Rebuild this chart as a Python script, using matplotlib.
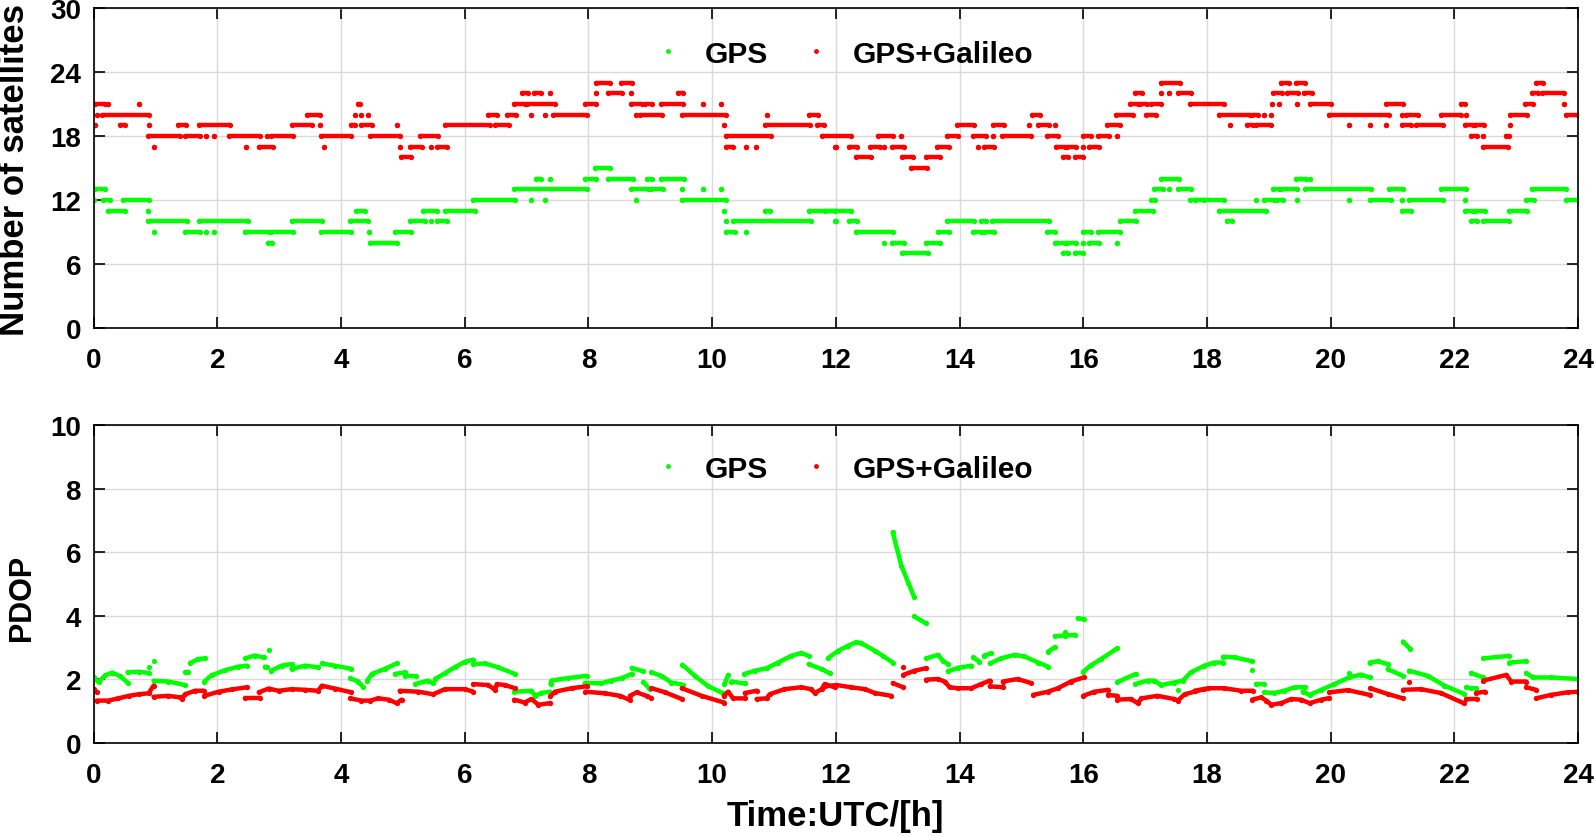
import matplotlib
matplotlib.use("Agg")
import matplotlib.pyplot as plt
from matplotlib.lines import Line2D

plt.rcParams["font.family"] = ["Liberation Sans", "DejaVu Sans"]
plt.rcParams["font.weight"] = "bold"

GREEN = "#00ff00"
RED = "#ff0000"

# Number of visible satellites: (start hour, end hour, count)
GPS_NSAT = [
    (0.03, 0.18, 13),
    (0.0, 0.0, 12), (0.16, 0.27, 12), (0.48, 0.89, 12),
    (0.24, 0.51, 11), (0.88, 0.88, 11), (4.25, 4.39, 11), (5.33, 5.56, 11), (5.68, 6.16, 11),
    (0.88, 1.51, 10), (1.70, 2.49, 10), (3.2, 3.7, 10), (4.15, 4.44, 10), (5.12, 5.36, 10),
    (5.45, 5.45, 10), (5.55, 5.71, 10),
    (0.97, 0.97, 9), (1.48, 1.72, 9), (1.81, 1.81, 9), (1.95, 1.95, 9), (2.45, 2.83, 9),
    (2.87, 3.23, 9), (3.67, 4.17, 9), (4.45, 4.45, 9), (4.87, 5.14, 9),
    (2.82, 2.89, 8), (4.47, 4.9, 8),
    (8.11, 8.35, 15),
    (7.16, 7.23, 14), (7.38, 7.38, 14), (7.94, 8.13, 14), (8.32, 8.72, 14), (8.94, 9.03, 14),
    (9.18, 9.54, 14),
    (6.80, 7.97, 13), (8.69, 8.97, 13), (9.01, 9.21, 13), (9.52, 9.52, 13), (9.86, 9.86, 13),
    (10.14, 10.14, 13),
    (6.14, 6.82, 12), (7.08, 7.08, 12), (7.30, 7.30, 12), (8.77, 8.77, 12), (9.52, 10.22, 12),
    (10.2, 10.2, 11), (10.86, 10.93, 11), (11.56, 11.98, 11),
    (10.23, 10.23, 10), (10.34, 11.6, 10), (11.98, 11.98, 10),
    (10.23, 10.37, 9), (10.54, 10.54, 9),
    (17.26, 17.55, 14),
    (17.15, 17.29, 13), (17.39, 17.39, 13), (17.53, 17.74, 13),
    (17.1, 17.16, 12), (17.72, 17.96, 12),
    (11.82, 12.24, 11), (16.83, 17.12, 11),
    (12.01, 12.01, 10), (12.21, 12.35, 10), (13.8, 14.24, 10), (14.34, 14.42, 10),
    (14.52, 15.45, 10), (16.59, 16.86, 10),
    (12.32, 12.93, 9), (13.65, 13.83, 9), (14.22, 14.35, 9), (14.4, 14.56, 9), (15.42, 15.55, 9),
    (16.0, 16.12, 9), (16.24, 16.6, 9),
    (12.78, 12.78, 8), (12.91, 13.1, 8), (13.45, 13.68, 8), (15.54, 15.7, 8), (15.74, 15.89, 8),
    (16.0, 16.0, 8), (16.09, 16.26, 8), (16.54, 16.54, 8),
    (13.07, 13.49, 7), (15.67, 15.75, 7), (15.86, 16.0, 7),
    (19.44, 19.6, 14), (19.66, 19.66, 14),
    (19.07, 19.17, 13), (19.2, 19.46, 13), (19.58, 20.65, 13), (20.95, 21.17, 13),
    (21.78, 22.19, 13), (23.25, 23.8, 13),
    (17.8, 18.28, 12), (18.79, 18.79, 12), (18.92, 19.09, 12), (19.14, 19.23, 12),
    (19.45, 19.45, 12), (20.29, 20.29, 12), (20.63, 20.97, 12), (21.15, 21.15, 12),
    (21.27, 21.81, 12), (22.17, 22.17, 12), (23.16, 23.28, 12), (23.8, 24.0, 12),
    (18.2, 18.95, 11), (21.15, 21.3, 11), (22.17, 22.3, 11), (22.33, 22.5, 11), (22.88, 23.17, 11),
    (18.33, 18.41, 10), (22.27, 22.37, 10), (22.47, 22.89, 10),
]

GAL_NSAT = [
    (0.03, 0.19, 21), (0.24, 0.24, 21), (0.73, 0.73, 21), (4.27, 4.31, 21),
    (0.05, 0.05, 20), (0.13, 0.89, 20), (3.45, 3.66, 20), (4.23, 4.23, 20), (4.33, 4.33, 20),
    (4.43, 4.43, 20),
    (0.02, 0.02, 19), (0.43, 0.51, 19), (0.89, 0.89, 19), (1.37, 1.49, 19), (1.70, 2.21, 19),
    (3.2, 3.53, 19), (3.66, 3.66, 19), (4.17, 4.23, 19), (4.33, 4.5, 19), (4.9, 4.9, 19),
    (5.68, 6.41, 19), (6.49, 6.72, 19),
    (0.88, 1.4, 18), (1.48, 1.72, 18), (1.81, 1.81, 18), (1.95, 1.95, 18), (2.19, 2.69, 18),
    (2.8, 2.8, 18), (2.87, 3.23, 18), (3.67, 4.17, 18), (4.47, 4.95, 18), (5.28, 5.57, 18),
    (0.97, 0.97, 17), (2.47, 2.47, 17), (2.67, 2.9, 17), (3.72, 3.72, 17), (4.95, 4.95, 17),
    (5.12, 5.31, 17), (5.45, 5.45, 17), (5.55, 5.71, 17),
    (4.97, 5.14, 16),
    (8.12, 8.35, 23), (8.52, 8.70, 23),
    (6.93, 7.03, 22), (7.12, 7.23, 22), (7.38, 7.38, 22), (8.12, 8.12, 22), (8.32, 8.55, 22),
    (8.69, 8.69, 22), (9.45, 9.53, 22),
    (6.80, 6.97, 21), (7.0, 7.46, 21), (7.94, 8.13, 21), (8.69, 8.87, 21), (8.92, 9.03, 21),
    (9.17, 9.53, 21), (9.86, 9.86, 21), (10.14, 10.14, 21),
    (6.38, 6.53, 20), (6.68, 6.83, 20), (7.08, 7.08, 20), (7.30, 7.30, 20), (7.42, 7.97, 20),
    (8.77, 8.77, 20), (8.83, 9.19, 20), (9.52, 10.22, 20), (10.89, 10.89, 20), (11.56, 11.72, 20),
    (10.2, 10.2, 19), (10.86, 11.58, 19), (11.70, 11.81, 19),
    (10.22, 10.95, 18), (11.78, 12.24, 18),
    (10.23, 10.34, 17), (10.54, 10.54, 17), (10.71, 10.71, 17), (11.98, 11.98, 17),
    (17.25, 17.57, 23),
    (16.83, 16.95, 22), (17.25, 17.25, 22), (17.39, 17.39, 22), (17.53, 17.74, 22),
    (16.76, 16.88, 21), (16.91, 17.03, 21), (17.1, 17.25, 21), (17.72, 18.28, 21),
    (15.17, 15.3, 20), (16.53, 16.8, 20), (17.02, 17.18, 20),
    (13.96, 14.24, 19), (14.54, 14.72, 19), (15.13, 15.13, 19), (15.27, 15.45, 19),
    (15.54, 15.54, 19), (16.39, 16.6, 19),
    (12.69, 12.93, 18), (13.06, 13.06, 18), (13.8, 13.98, 18), (14.22, 14.43, 18),
    (14.54, 14.54, 18), (14.69, 15.16, 18), (15.42, 15.59, 18), (16.0, 16.12, 18),
    (16.24, 16.42, 18), (16.54, 16.54, 18),
    (12.01, 12.01, 17), (12.21, 12.35, 17), (12.55, 12.72, 17), (12.78, 12.78, 17),
    (12.91, 13.1, 17), (13.64, 13.83, 17), (14.3, 14.3, 17), (14.4, 14.56, 17), (15.56, 15.7, 17),
    (15.74, 15.89, 17), (16.0, 16.0, 17), (16.09, 16.26, 17),
    (12.32, 12.57, 16), (13.07, 13.25, 16), (13.45, 13.68, 16), (15.67, 15.75, 16),
    (15.86, 16.0, 16),
    (13.22, 13.48, 15),
    (19.19, 19.32, 23), (19.44, 19.59, 23), (23.32, 23.43, 23),
    (19.07, 19.21, 22), (19.3, 19.47, 22), (19.57, 19.7, 22), (23.25, 23.35, 22), (23.41, 23.78, 22),
    (19.05, 19.05, 21), (19.16, 19.16, 21), (19.45, 19.45, 21), (19.67, 20.0, 21),
    (20.9, 21.17, 21), (22.1, 22.17, 21), (23.15, 23.27, 21), (23.78, 23.78, 21),
    (18.2, 18.69, 20), (18.73, 18.82, 20), (18.93, 18.93, 20), (19.03, 19.03, 20),
    (19.97, 20.95, 20), (21.15, 21.15, 20), (21.22, 21.41, 20), (21.78, 22.11, 20),
    (22.19, 22.19, 20), (22.9, 23.17, 20), (23.8, 24.0, 20),
    (18.37, 18.37, 19), (18.65, 18.74, 19), (18.8, 19.04, 19), (20.29, 20.29, 19),
    (20.64, 20.64, 19), (20.9, 20.9, 19), (21.15, 21.3, 19), (21.38, 21.81, 19),
    (22.17, 22.3, 19), (22.33, 22.48, 19), (22.9, 22.9, 19),
    (22.27, 22.37, 18), (22.47, 22.47, 18), (22.84, 22.89, 18),
    (22.47, 22.86, 17),
]

# PDOP arcs: each arc is a list of (hour, pdop)
GPS_PDOP = [
    [(0.0, 2.05), (0.08, 1.9), (0.19, 2.12), (0.3, 2.2), (0.43, 2.09), (0.55, 1.89)],
    [(0.55, 2.21), (0.73, 2.23), (0.89, 2.19)],
    [(0.89, 2.37)], [(0.97, 2.58)],
    [(0.97, 1.95), (1.21, 1.92), (1.48, 1.81)],
    [(1.48, 2.21), (1.53, 2.23)],
    [(1.56, 2.5), (1.69, 2.63), (1.80, 2.65)],
    [(1.79, 1.92), (1.91, 2.12), (2.13, 2.28), (2.34, 2.39), (2.48, 2.42)],
    [(2.45, 2.65), (2.61, 2.74), (2.75, 2.68)],
    [(2.84, 2.91)], [(2.77, 2.39), (2.8, 2.38)],
    [(2.87, 2.26), (3.04, 2.42), (3.2, 2.47)],
    [(3.2, 2.32), (3.42, 2.42), (3.63, 2.37)],
    [(3.69, 2.49), (3.9, 2.42), (4.17, 2.32)],
    [(4.15, 2.02), (4.28, 1.92), (4.36, 1.74)],
    [(4.42, 1.94), (4.5, 2.16), (4.71, 2.32), (4.9, 2.49)],
    [(4.87, 2.16), (5.04, 2.21)],
    [(5.04, 2.08), (5.22, 2.08)],
    [(5.2, 1.84), (5.41, 1.95), (5.49, 1.86)],
    [(5.52, 2.0), (5.68, 2.18), (5.84, 2.37), (6.0, 2.54), (6.14, 2.61)],
    [(6.14, 2.47), (6.33, 2.49), (6.54, 2.37), (6.81, 2.16)],
    [(6.8, 1.6), (7.08, 1.63), (7.14, 1.47), (7.24, 1.56), (7.38, 1.6)],
    [(7.39, 1.84), (7.4, 1.95), (7.67, 2.03), (7.97, 2.1)],
    [(7.94, 1.87), (8.21, 1.87), (8.37, 1.95), (8.54, 2.03), (8.7, 2.16)],
    [(8.7, 2.35), (8.89, 2.24)],
    [(8.89, 1.91), (8.99, 1.68)],
    [(9.02, 2.21), (9.18, 2.1), (9.34, 1.89), (9.53, 1.82)],
    [(9.52, 2.45), (9.72, 2.1), (9.94, 1.77), (10.18, 1.55)],
    [(10.2, 1.84), (10.26, 2.13)],
    [(10.31, 1.92), (10.53, 1.86)],
    [(10.52, 2.16), (10.69, 2.26), (10.88, 2.34), (11.07, 2.52), (11.28, 2.73), (11.44, 2.82),
     (11.56, 2.73)],
    [(11.56, 2.47), (11.77, 2.31), (11.9, 2.18)],
    [(11.87, 2.65), (12.04, 2.89), (12.2, 3.05), (12.33, 3.16), (12.41, 3.13), (12.63, 2.89),
     (12.76, 2.73), (12.92, 2.52)],
    [(12.92, 6.62), (13.06, 5.57), (13.17, 5.04), (13.27, 4.57)],
    [(13.27, 3.97), (13.46, 3.75)],
    [(13.46, 2.65), (13.65, 2.76), (13.73, 2.58), (13.81, 2.47)],
    [(13.81, 2.24), (13.97, 2.35), (14.19, 2.42)],
    [(14.22, 2.68), (14.32, 2.55)],
    [(14.4, 2.74), (14.51, 2.81)],
    [(14.49, 2.49), (14.67, 2.65), (14.89, 2.76), (15.05, 2.71), (15.27, 2.52), (15.43, 2.39)],
    [(15.43, 2.86), (15.54, 3.0)],
    [(15.54, 3.35), (15.7, 3.37), (15.86, 3.39)],
    [(15.7, 3.49)],
    [(15.91, 3.91), (16.01, 3.89)],
    [(16.0, 2.23), (16.13, 2.44), (16.29, 2.63), (16.55, 2.97)],
    [(16.55, 1.9), (16.85, 2.16)],
    [(16.84, 1.84), (17.04, 1.95), (17.15, 1.95), (17.26, 1.81), (17.47, 1.89), (17.61, 1.95),
     (17.74, 2.21), (17.96, 2.42), (18.12, 2.52), (18.26, 2.52)],
    [(17.53, 1.66)],
    [(18.26, 2.7), (18.45, 2.68), (18.73, 2.56)],
    [(18.73, 2.28)],
    [(18.8, 1.84), (18.93, 1.84)],
    [(18.93, 1.58), (19.09, 1.56), (19.25, 1.63), (19.42, 1.74), (19.58, 1.74)],
    [(19.55, 1.6), (19.66, 1.5), (19.85, 1.66), (20.06, 1.84), (20.3, 2.05), (20.49, 2.14),
     (20.63, 2.05)],
    [(20.3, 2.19)],
    [(20.63, 2.52), (20.76, 2.56), (20.92, 2.47)],
    [(20.92, 2.31), (21.17, 2.1)],
    [(21.17, 3.18), (21.29, 2.94)],
    [(21.27, 2.26), (21.57, 2.1), (21.84, 1.79), (22.16, 1.53)],
    [(22.19, 1.74), (22.27, 1.71), (22.35, 1.71)],
    [(22.27, 2.19), (22.46, 2.05)],
    [(22.47, 2.65), (22.89, 2.73)],
    [(22.89, 2.52), (23.16, 2.56)],
    [(23.16, 2.19), (23.27, 2.05), (23.56, 2.05), (24.0, 2.0)],
]

GAL_PDOP = [
    [(0.0, 1.68), (0.05, 1.58)],
    [(0.05, 1.32), (0.24, 1.32), (0.4, 1.39), (0.57, 1.47), (0.73, 1.52), (0.89, 1.55),
     (0.97, 1.79)],
    [(0.97, 1.44), (1.21, 1.47), (1.4, 1.42), (1.43, 1.37), (1.48, 1.52), (1.64, 1.63),
     (1.78, 1.63)],
    [(1.79, 1.47), (2.02, 1.6), (2.23, 1.67), (2.48, 1.74)],
    [(2.45, 1.39), (2.69, 1.39)],
    [(2.67, 1.58), (2.83, 1.7), (2.99, 1.63), (3.2, 1.68), (3.42, 1.66), (3.63, 1.63),
     (3.69, 1.79), (3.9, 1.7), (4.17, 1.58)],
    [(4.15, 1.39), (4.33, 1.32), (4.47, 1.32), (4.6, 1.39), (4.77, 1.35), (4.9, 1.24),
     (4.98, 1.35)],
    [(4.95, 1.63), (5.25, 1.6), (5.49, 1.52), (5.68, 1.68), (6.0, 1.68), (6.14, 1.6)],
    [(6.14, 1.84), (6.38, 1.81), (6.49, 1.66), (6.52, 1.84), (6.65, 1.81), (6.81, 1.71)],
    [(6.8, 1.35), (6.97, 1.26), (7.08, 1.37), (7.19, 1.19), (7.38, 1.24)],
    [(7.38, 1.45), (7.46, 1.6), (7.73, 1.71), (7.97, 1.77)],
    [(7.95, 1.6), (8.27, 1.55), (8.51, 1.47), (8.67, 1.34)],
    [(8.67, 1.47), (8.78, 1.58), (8.94, 1.47), (9.02, 1.39)],
    [(9.02, 1.71), (9.24, 1.58), (9.51, 1.37)],
    [(9.51, 1.71), (9.83, 1.47), (10.19, 1.26)],
    [(10.19, 1.47), (10.26, 1.6), (10.34, 1.39), (10.53, 1.39)],
    [(10.53, 1.56), (10.72, 1.63)],
    [(10.72, 1.37), (10.88, 1.39), (10.93, 1.52), (11.17, 1.68), (11.44, 1.74), (11.6, 1.68),
     (11.66, 1.56), (11.77, 1.68), (11.82, 1.84), (11.98, 1.74)],
    [(11.82, 1.77), (12.01, 1.81), (12.25, 1.74), (12.47, 1.68), (12.63, 1.56), (12.9, 1.47)],
    [(12.92, 1.87), (13.09, 1.74)],
    [(13.09, 2.37)],
    [(13.09, 2.13), (13.27, 2.26), (13.46, 2.34)],
    [(13.46, 1.98), (13.65, 2.0), (13.76, 1.92), (13.84, 1.74), (13.97, 1.71), (14.19, 1.71),
     (14.35, 1.84), (14.49, 1.95)],
    [(14.49, 1.77), (14.7, 1.74)],
    [(14.7, 1.92), (14.94, 2.0), (15.16, 1.87)],
    [(15.19, 1.5), (15.43, 1.6), (15.59, 1.71), (15.8, 1.92), (16.01, 2.05)],
    [(16.0, 1.47), (16.18, 1.6), (16.4, 1.66)],
    [(16.4, 1.5), (16.55, 1.47)],
    [(16.55, 1.35), (16.77, 1.37), (16.88, 1.24), (16.94, 1.39), (17.2, 1.47), (17.47, 1.37),
     (17.53, 1.32), (17.64, 1.52), (17.96, 1.68)],
    [(17.8, 1.63), (18.02, 1.71), (18.28, 1.71), (18.55, 1.63), (18.74, 1.63)],
    [(18.73, 1.35), (18.88, 1.42), (18.96, 1.32), (19.04, 1.19), (19.2, 1.24), (19.36, 1.37),
     (19.52, 1.35), (19.66, 1.24), (19.85, 1.35), (19.98, 1.4)],
    [(19.98, 1.58), (20.28, 1.65), (20.63, 1.5)],
    [(20.64, 1.71), (20.92, 1.53), (21.17, 1.39)],
    [(21.27, 1.92)],
    [(21.17, 1.66), (21.46, 1.68), (21.78, 1.56), (22.15, 1.24)],
    [(22.19, 1.37), (22.37, 1.37)],
    [(22.35, 1.56), (22.49, 1.6)],
    [(22.47, 1.95), (22.84, 2.13), (22.92, 1.92), (23.16, 1.92)],
    [(23.16, 1.74), (23.32, 1.66)],
    [(23.32, 1.39), (23.56, 1.5), (23.83, 1.58), (24.0, 1.6)],
]

X_TICKS = list(range(0, 25, 2))
NSAT_TICKS = [0, 6, 12, 18, 24, 30]
PDOP_TICKS = [0, 2, 4, 6, 8, 10]

LW = 3.2


def draw_steps(ax, segments, color):
    for t0, t1, n in segments:
        ax.plot([t0, t1], [n, n], color=color, lw=LW, solid_capstyle="round",
                marker="o", ms=3.8, mew=0)


def draw_arcs(ax, arcs, color):
    for arc in arcs:
        ts = [p[0] for p in arc]
        vs = [p[1] for p in arc]
        ax.plot(ts, vs, color=color, lw=LW, solid_capstyle="round",
                solid_joinstyle="round", marker="o", ms=3.8, mew=0)


def style_axes(ax, yticks):
    ax.set_xlim(0, 24)
    ax.set_ylim(yticks[0], yticks[-1])
    ax.set_xticks(X_TICKS)
    ax.set_yticks(yticks)
    ax.grid(True, color="#dadada", lw=1.0)
    ax.set_axisbelow(True)
    ax.tick_params(direction="in", length=8, width=1.2, top=True, right=True, labelsize=20)
    ax.tick_params(axis="x", pad=14)
    ax.tick_params(axis="y", pad=9)
    for lab in ax.get_xticklabels() + ax.get_yticklabels():
        lab.set_fontweight("bold")
    for sp in ax.spines.values():
        sp.set_linewidth(1.2)
        sp.set_color("black")


def add_legend(ax, y):
    handles = [
        Line2D([], [], ls="none", marker="o", ms=3.5, mew=0, color=GREEN),
        Line2D([], [], ls="none", marker="o", ms=3.5, mew=0, color=RED),
    ]
    ax.legend(handles, ["GPS", "GPS+Galileo"], loc="center", bbox_to_anchor=(0.505, y),
              ncol=2, frameon=False, handlelength=1.0, handletextpad=0.75,
              columnspacing=1.1, prop={"size": 21.5, "weight": "bold"})


fig = plt.figure(figsize=(15.94, 8.37), dpi=100)
ax1 = fig.add_axes([0.0587, 0.607, 0.9313, 0.382])
ax2 = fig.add_axes([0.0587, 0.1117, 0.9313, 0.3793])

draw_steps(ax1, GPS_NSAT, GREEN)
draw_steps(ax1, GAL_NSAT, RED)
style_axes(ax1, NSAT_TICKS)
add_legend(ax1, 0.858)

draw_arcs(ax2, GPS_PDOP, GREEN)
draw_arcs(ax2, GAL_PDOP, RED)
style_axes(ax2, PDOP_TICKS)
add_legend(ax2, 0.862)

fig.text(0.0088, 0.797, "Number of satellites", rotation=90, ha="center", va="center",
         fontsize=25, fontweight="bold")
fig.text(0.0138, 0.2855, "PDOP", rotation=90, ha="center", va="center",
         fontsize=22, fontweight="bold")
fig.text(0.524, 0.025, "Time:UTC/[h]", ha="center", va="center",
         fontsize=25, fontweight="bold")

fig.savefig("out.png", dpi=100)
